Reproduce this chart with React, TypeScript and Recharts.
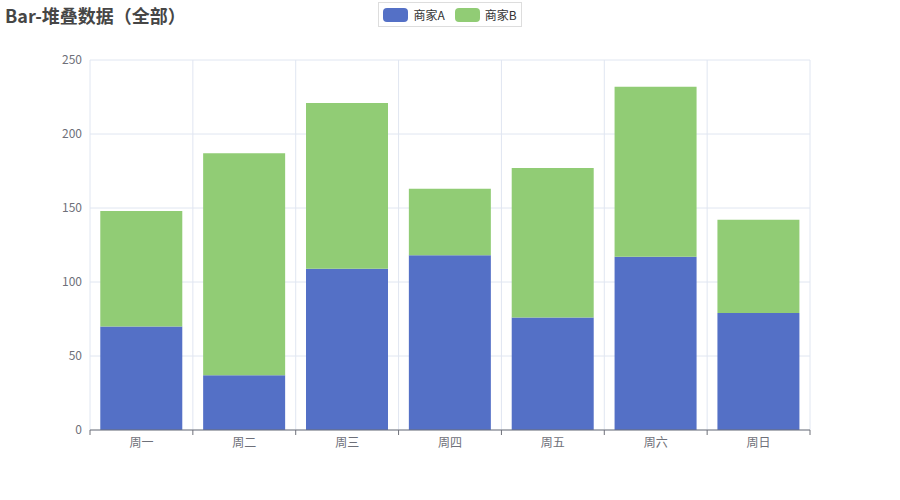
import { BarChart, Bar, XAxis, YAxis, CartesianGrid } from "recharts";

const days = ["周一", "周二", "周三", "周四", "周五", "周六", "周日"];
const sellerA = [70, 37, 109, 118, 76, 117, 79];
const sellerB = [78, 150, 112, 45, 101, 115, 63];
const yTicks = [0, 50, 100, 150, 200, 250];
const legendItems = [
  { name: "商家A", color: "#5470c6" },
  { name: "商家B", color: "#91cc75" },
];

const data = days.map((d, i) => ({ day: d, a: sellerA[i], b: sellerB[i] }));

const FONT = "'Noto Sans CJK SC', 'Noto Sans', sans-serif";
const PLOT_W = 720;
const bandW = PLOT_W / days.length;

const DayTick = (props: any) => {
  const { x, y, payload, index } = props;
  const axisY = y - 8;
  return (
    <g>
      <line x1={x - bandW / 2} x2={x - bandW / 2} y1={axisY} y2={axisY + 5} stroke="#6e7079" />
      {index === days.length - 1 && (
        <line x1={x + bandW / 2} x2={x + bandW / 2} y1={axisY} y2={axisY + 5} stroke="#6e7079" />
      )}
      <text x={x} y={y} dy="0.71em" textAnchor="middle" fill="#6e7079" fontSize={12} fontFamily={FONT}>
        {payload.value}
      </text>
    </g>
  );
};

export default function App() {
  return (
    <div style={{ position: "absolute", left: 0, top: 0, width: 900, height: 500, background: "#fff" }}>
      <div
        style={{
          position: "absolute",
          left: 5,
          top: 2,
          fontFamily: FONT,
          fontSize: 18,
          fontWeight: "bold",
          color: "#464646",
        }}
      >
        Bar-堆叠数据（全部）
      </div>
      <div
        style={{
          position: "absolute",
          top: 2,
          left: 0,
          width: 900,
          display: "flex",
          justifyContent: "center",
          fontFamily: FONT,
          fontSize: 12,
          color: "#333",
          zIndex: 2,
        }}
      >
        <div style={{ display: "flex", gap: 10, border: "1px solid #ddd", padding: "3px 4px" }}>
          {legendItems.map((it) => (
            <div key={it.name} style={{ display: "flex", alignItems: "center", gap: 5 }}>
              <span style={{ width: 25, height: 14, borderRadius: 4, background: it.color, display: "inline-block" }} />
              <span>{it.name}</span>
            </div>
          ))}
        </div>
      </div>
      <BarChart
        width={900}
        height={500}
        data={data}
        margin={{ top: 60, right: 90, bottom: 40, left: 30 }}
        barCategoryGap="10%"
      >
        <CartesianGrid
          stroke="#e0e6f1"
          verticalCoordinatesGenerator={({ offset }: any) =>
            [...days, ""].map((_, i) => offset.left + (offset.width / days.length) * i)
          }
        />
        <XAxis
          dataKey="day"
          height={30}
          axisLine={{ stroke: "#6e7079" }}
          tickLine={false}
          tick={<DayTick />}
          interval={0}
        />
        <YAxis
          width={60}
          domain={[0, 250]}
          ticks={yTicks}
          axisLine={false}
          tickLine={false}
          tick={{ fill: "#6e7079", fontSize: 12, fontFamily: FONT }}
        />
        <Bar dataKey="a" name="商家A" stackId="s" fill="#5470c6" isAnimationActive={false} />
        <Bar dataKey="b" name="商家B" stackId="s" fill="#91cc75" isAnimationActive={false} />
      </BarChart>
    </div>
  );
}
